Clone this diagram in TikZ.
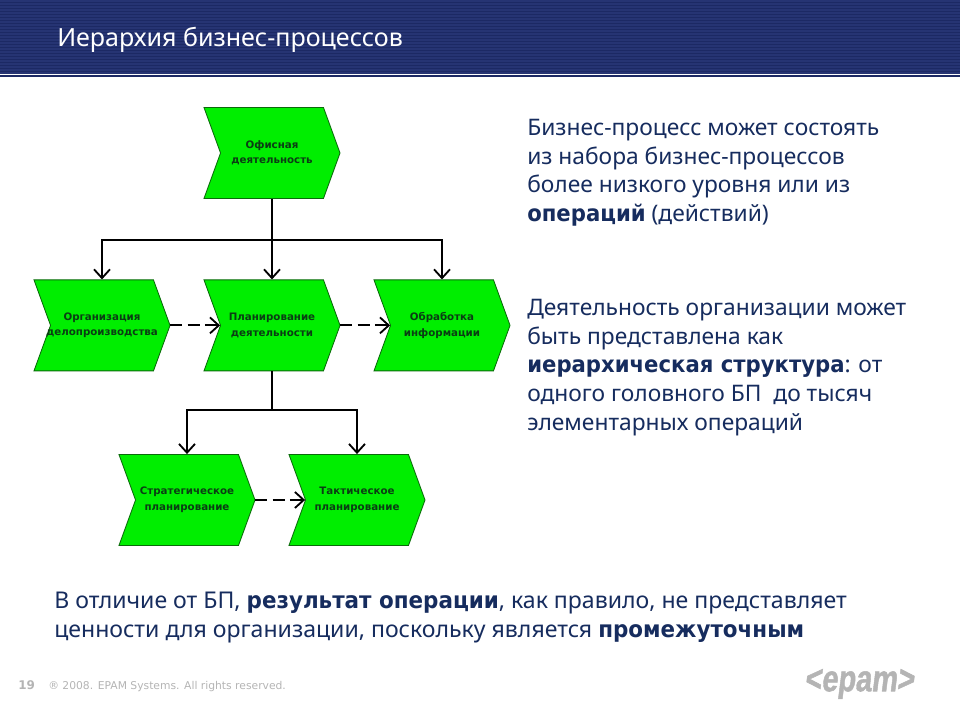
\documentclass[tikz,border=0pt]{standalone}
\usepackage{fontspec}
\setmainfont{DejaVu Sans}
\newfontfamily\bodyfont{Noto Sans}[BoldFont={DejaVu Sans Bold},BoldFeatures={FakeStretch=0.93}]
\newfontfamily\logofont{Liberation Sans Bold}[FakeSlant=0.16,FakeBold=1.5]
\usepackage{xcolor}
\usetikzlibrary{shapes.symbols,arrows.meta}
\definecolor{hdrdark}{HTML}{1c2964}
\definecolor{hdrlight}{HTML}{263473}
\definecolor{procgreen}{HTML}{00ee00}
\definecolor{procedge}{HTML}{0a6a0a}
\definecolor{proctext}{HTML}{0b3d14}
\definecolor{txtnavy}{HTML}{162c5e}
\definecolor{footgray}{HTML}{b4b4b4}
\tikzset{
  procbox/.style={signal,signal to=east,signal from=west,signal pointer angle=140,
    draw=procedge,fill=procgreen,line width=0.6pt,minimum width=3.4cm,minimum height=2.275cm,
    inner sep=0pt,align=center,text=proctext,font=\fontsize{7.3}{11}\selectfont\bfseries},
  flowline/.style={black,line width=1.3pt,-{Straight Barb[length=2.2mm,width=4mm]}},
  trunkline/.style={black,line width=1.8pt},
  nextline/.style={flowline,dash pattern=on 3mm off 1.3mm},
  bodytext/.style={anchor=north west,align=left,text=txtnavy,inner sep=0pt,
    font=\bodyfont\fontsize{16.2}{20.4}\selectfont},
}
\begin{document}
\begin{tikzpicture}[x=0.025cm,y=0.025cm]
  \useasboundingbox (0,0) rectangle (960,720);
  \fill[hdrdark] (0,645.7) rectangle (960,720);
  \foreach \i in {0,...,24}
    \fill[hdrlight] (0,646+3*\i) rectangle (960,647.5+3*\i);
  \fill[hdrdark] (0,643.3) rectangle (960,644.7);
  \node[anchor=west,text=white,inner sep=0pt,font=\bodyfont\fontsize{17.8}{20}\selectfont] (title) at (57,680) {Иерархия бизнес-процессов};

  \node[procbox] (office) at (272,567) {Офисная\\деятельность};
  \node[procbox] (records) at (102,394.6) {Организация\\\makebox[2cm]{делопроизводства}};
  \node[procbox] (planning) at (272,394.6) {Планирование\\деятельности};
  \node[procbox] (handling) at (442,394.6) {Обработка\\информации};
  \node[procbox] (strategic) at (187,220) {Стратегическое\\планирование};
  \node[procbox] (tactical) at (357,220) {Тактическое\\планирование};

  \coordinate (topfork) at (272,480);
  \coordinate (lowfork) at (272,310);
  \draw[trunkline] (office.south) -- (topfork);
  \draw[flowline] (topfork) -| (records.north);
  \draw[flowline] (topfork) -- (planning.north);
  \draw[flowline] (topfork) -| (handling.north);
  \draw[trunkline] (planning.south) -- (lowfork);
  \draw[flowline] (lowfork) -| (strategic.north);
  \draw[flowline] (lowfork) -| (tactical.north);
  \draw[nextline] (records.east) -- (planning.west);
  \draw[nextline] (planning.east) -- (handling.west);
  \draw[nextline] (strategic.east) -- (tactical.west);

  \node[bodytext] (note1) at (527,601) {Бизнес-процесс может состоять\\из набора бизнес-процессов\\более низкого уровня или из\\\textbf{операций} (действий)};
  \node[bodytext] (note2) at (527,421) {Деятельность организации может\\быть представлена как\\\textbf{иерархическая структура}: от\\одного головного БП\ \ до тысяч\\элементарных операций};
  \node[bodytext,font=\bodyfont\fontsize{16.4}{20.4}\selectfont] (note3) at (54,128) {В отличие от БП, \textbf{результат операции}, как правило, не представляет\\ценности для организации, поскольку является \textbf{промежуточным}};

  \node[anchor=west,inner sep=0pt,text=footgray,font=\fontsize{8.5}{9}\selectfont\bfseries] (pageno) at (18,35) {19};
  \node[anchor=west,inner sep=0pt,text=footgray,font=\fontsize{7.65}{9}\selectfont] (rights) at (48,33) {® 2008. EPAM Systems. All rights reserved.};
  \node[inner sep=0pt,text=footgray,font=\logofont\fontsize{21}{22}\selectfont] (logo) at (859,36) {\scalebox{0.98}[1.25]{<epam>}};
\end{tikzpicture}
\end{document}
